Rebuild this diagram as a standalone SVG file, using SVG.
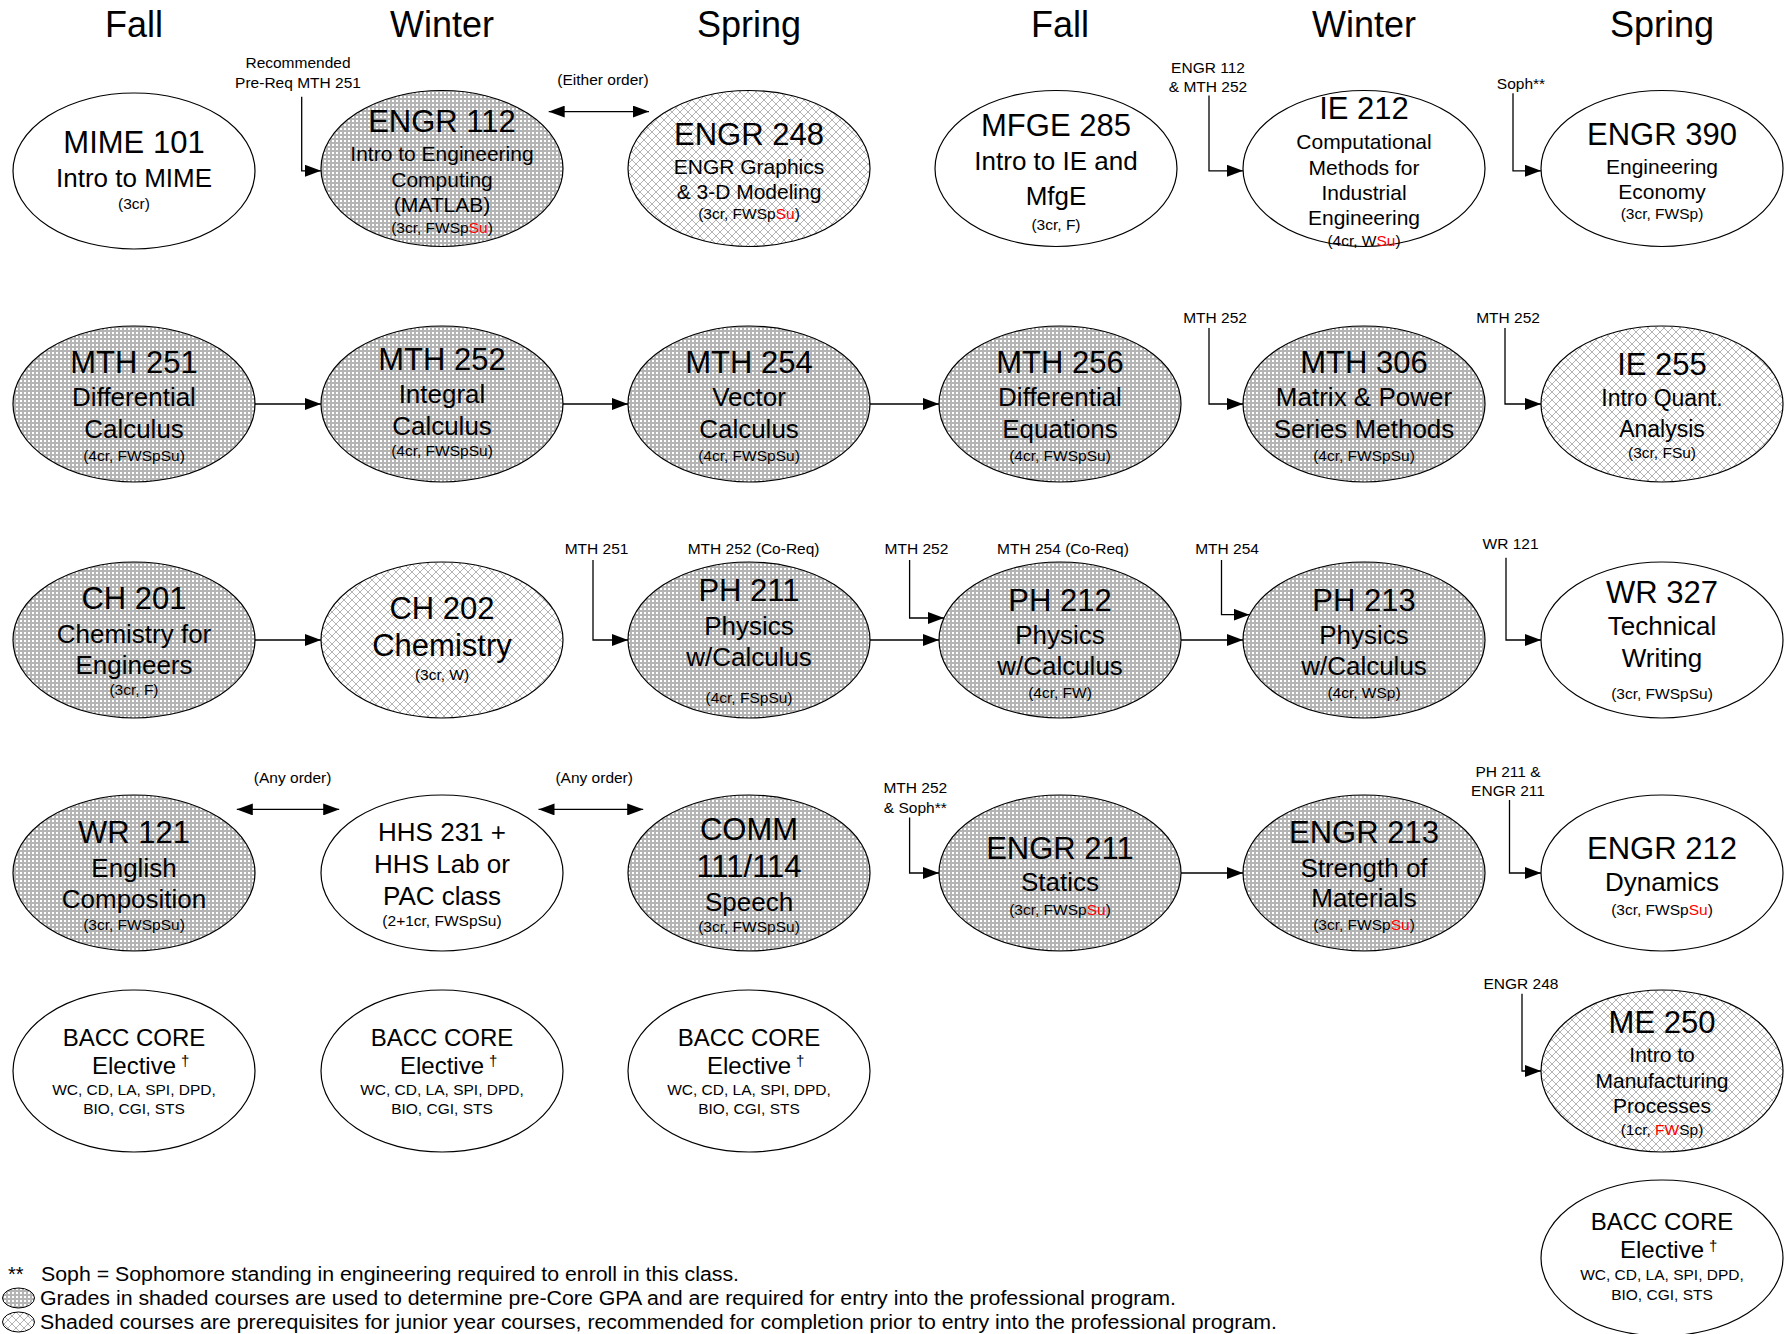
<svg xmlns="http://www.w3.org/2000/svg" width="1785" height="1334" viewBox="0 0 1785 1334">
<defs>
<pattern id="dots" width="4" height="4" patternUnits="userSpaceOnUse">
<rect width="4" height="4" fill="#b4b4b4"/>
<rect width="2" height="2" fill="#ffffff"/>
</pattern>
<pattern id="hatch" width="8" height="8" patternUnits="userSpaceOnUse">
<rect width="8" height="8" fill="#ffffff"/>
<path d="M0,0 L8,8 M8,0 L0,8" stroke="#b4b4b4" stroke-width="1" fill="none"/>
</pattern>
<marker id="ah" viewBox="0 0 16 12" refX="16" refY="6" markerWidth="16" markerHeight="12" markerUnits="userSpaceOnUse" orient="auto-start-reverse">
<path d="M0,0 L16,6 L0,12 Z" fill="#000"/>
</marker>
<style>
text{font-family:"Liberation Sans",Arial,sans-serif;fill:#000;text-anchor:middle}
.n{stroke:#000;stroke-width:1.2}
.w{fill:#fff}
.d{fill:url(#dots)}
.x{fill:url(#hatch)}
.h{font-size:36px}
.c{font-size:31px}
.b{font-size:26px}
.m{font-size:21px}
.s{font-size:15.5px}
.l{font-size:15.5px}
.e{font-size:24px}
.dg{font-size:15px}
.r{fill:#ff0000}
.f{font-size:20px;text-anchor:start}
.cn{stroke:#000;stroke-width:1.3;fill:none}
</style>
</defs>
<rect width="1785" height="1334" fill="#fff"/>

<g id="headers">
<text class="h" x="134" y="37">Fall</text>
<text class="h" x="442" y="37">Winter</text>
<text class="h" x="749" y="37">Spring</text>
<text class="h" x="1060" y="37">Fall</text>
<text class="h" x="1364" y="37">Winter</text>
<text class="h" x="1662" y="37">Spring</text>
</g>

<g id="connectors">
<path class="cn" d="M301.7,96.8 V170.8 H321" marker-end="url(#ah)"/>
<path class="cn" d="M548.7,111.6 H649" marker-start="url(#ah)" marker-end="url(#ah)"/>
<path class="cn" d="M1209,95.6 V170.8 H1243" marker-end="url(#ah)"/>
<path class="cn" d="M1513,93.3 V170.8 H1541" marker-end="url(#ah)"/>
<path class="cn" d="M255,404 H321" marker-end="url(#ah)"/>
<path class="cn" d="M563,404 H628" marker-end="url(#ah)"/>
<path class="cn" d="M870,404 H939" marker-end="url(#ah)"/>
<path class="cn" d="M1209,328 V404 H1243" marker-end="url(#ah)"/>
<path class="cn" d="M1505,328 V404 H1541" marker-end="url(#ah)"/>
<path class="cn" d="M255,640 H321" marker-end="url(#ah)"/>
<path class="cn" d="M593,560 V640 H628" marker-end="url(#ah)"/>
<path class="cn" d="M870,640 H939" marker-end="url(#ah)"/>
<path class="cn" d="M909.6,560 V618 H944" marker-end="url(#ah)"/>
<path class="cn" d="M1181,640 H1243" marker-end="url(#ah)"/>
<path class="cn" d="M1221.5,560 V614.7 H1249.5" marker-end="url(#ah)"/>
<path class="cn" d="M1506,557.8 V640 H1541" marker-end="url(#ah)"/>
<path class="cn" d="M236.8,809.4 H339.2" marker-start="url(#ah)" marker-end="url(#ah)"/>
<path class="cn" d="M538.5,809.4 H643.2" marker-start="url(#ah)" marker-end="url(#ah)"/>
<path class="cn" d="M909.6,817.4 V873 H939" marker-end="url(#ah)"/>
<path class="cn" d="M1181,873 H1243" marker-end="url(#ah)"/>
<path class="cn" d="M1509.5,800 V873 H1541" marker-end="url(#ah)"/>
<path class="cn" d="M1522,993.8 V1071 H1541" marker-end="url(#ah)"/>
</g>

<g id="labels">
<text class="l" x="298" y="68">Recommended</text>
<text class="l" x="298" y="87.5">Pre-Req MTH 251</text>
<text class="l" x="603" y="85">(Either order)</text>
<text class="l" x="1208" y="72.6">ENGR 112</text>
<text class="l" x="1208" y="92">&amp; MTH 252</text>
<text class="l" x="1521" y="88.5">Soph**</text>
<text class="l" x="1215" y="323">MTH 252</text>
<text class="l" x="1508" y="323">MTH 252</text>
<text class="l" x="596.5" y="554">MTH 251</text>
<text class="l" x="753.6" y="554">MTH 252 (Co-Req)</text>
<text class="l" x="916.4" y="554">MTH 252</text>
<text class="l" x="1063" y="554">MTH 254 (Co-Req)</text>
<text class="l" x="1227" y="554">MTH 254</text>
<text class="l" x="1510.6" y="548.5">WR 121</text>
<text class="l" x="292.6" y="783">(Any order)</text>
<text class="l" x="594.2" y="783">(Any order)</text>
<text class="l" x="915.3" y="793">MTH 252</text>
<text class="l" x="915.3" y="812.5">&amp; Soph**</text>
<text class="l" x="1508" y="777">PH 211 &amp;</text>
<text class="l" x="1508" y="795.5">ENGR 211</text>
<text class="l" x="1521" y="989">ENGR 248</text>
</g>

<g id="mime101">
<ellipse class="n w" cx="134" cy="171" rx="121" ry="78"/>
<text class="c" x="134" y="153.2">MIME 101</text>
<text class="b" x="134" y="186.7">Intro to MIME</text>
<text class="s" x="134" y="209.2">(3cr)</text>
</g>
<g id="engr112">
<ellipse class="n d" cx="442" cy="168.5" rx="121" ry="78"/>
<text class="c" x="442" y="131.6">ENGR 112</text>
<text class="m" x="442" y="161">Intro to Engineering</text>
<text class="m" x="442" y="187.2">Computing</text>
<text class="m" x="442" y="212.2">(MATLAB)</text>
<text class="s" x="442" y="233">(3cr, FWSp<tspan class="r">Su</tspan>)</text>
</g>
<g id="engr248">
<ellipse class="n x" cx="749" cy="168.5" rx="121" ry="78"/>
<text class="c" x="749" y="145.2">ENGR 248</text>
<text class="m" x="749" y="173.5">ENGR Graphics</text>
<text class="m" x="749" y="198.6">&amp; 3-D Modeling</text>
<text class="s" x="749" y="219.4">(3cr, FWSp<tspan class="r">Su</tspan>)</text>
</g>
<g id="mfge285">
<ellipse class="n w" cx="1056" cy="168.5" rx="121" ry="78"/>
<text class="c" x="1056" y="136.1">MFGE 285</text>
<text class="b" x="1056" y="169.6">Intro to IE and</text>
<text class="b" x="1056" y="204.9">MfgE</text>
<text class="s" x="1056" y="229.7">(3cr, F)</text>
</g>
<g id="ie212">
<ellipse class="n w" cx="1364" cy="168.5" rx="121" ry="78"/>
<text class="c" x="1364" y="119">IE 212</text>
<text class="m" x="1364" y="148.5">Computational</text>
<text class="m" x="1364" y="174.6">Methods for</text>
<text class="m" x="1364" y="199.7">Industrial</text>
<text class="m" x="1364" y="224.7">Engineering</text>
<text class="s" x="1364" y="245.6">(4cr, W<tspan class="r">Su</tspan>)</text>
</g>
<g id="engr390">
<ellipse class="n w" cx="1662" cy="168.5" rx="121" ry="78"/>
<text class="c" x="1662" y="145.2">ENGR 390</text>
<text class="m" x="1662" y="173.5">Engineering</text>
<text class="m" x="1662" y="198.6">Economy</text>
<text class="s" x="1662" y="219.4">(3cr, FWSp)</text>
</g>

<g id="mth251">
<ellipse class="n d" cx="134" cy="404" rx="121" ry="78"/>
<text class="c" x="134" y="372.9">MTH 251</text>
<text class="b" x="134" y="406.4">Differential</text>
<text class="b" x="134" y="438.3">Calculus</text>
<text class="s" x="134" y="460.8">(4cr, FWSpSu)</text>
</g>
<g id="mth252">
<ellipse class="n d" cx="442" cy="404" rx="121" ry="78"/>
<text class="c" x="442" y="369.5">MTH 252</text>
<text class="b" x="442" y="403">Integral</text>
<text class="b" x="442" y="434.9">Calculus</text>
<text class="s" x="442" y="456.2">(4cr, FWSpSu)</text>
</g>
<g id="mth254">
<ellipse class="n d" cx="749" cy="404" rx="121" ry="78"/>
<text class="c" x="749" y="372.9">MTH 254</text>
<text class="b" x="749" y="406.4">Vector</text>
<text class="b" x="749" y="438.3">Calculus</text>
<text class="s" x="749" y="460.8">(4cr, FWSpSu)</text>
</g>
<g id="mth256">
<ellipse class="n d" cx="1060" cy="404" rx="121" ry="78"/>
<text class="c" x="1060" y="372.9">MTH 256</text>
<text class="b" x="1060" y="406.4">Differential</text>
<text class="b" x="1060" y="438.3">Equations</text>
<text class="s" x="1060" y="460.8">(4cr, FWSpSu)</text>
</g>
<g id="mth306">
<ellipse class="n d" cx="1364" cy="404" rx="121" ry="78"/>
<text class="c" x="1364" y="372.9">MTH 306</text>
<text class="b" x="1364" y="406.4">Matrix &amp; Power</text>
<text class="b" x="1364" y="438.3">Series Methods</text>
<text class="s" x="1364" y="460.8">(4cr, FWSpSu)</text>
</g>
<g id="ie255">
<ellipse class="n x" cx="1662" cy="404" rx="121" ry="78"/>
<text class="c" x="1662" y="375.2">IE 255</text>
<text class="m" x="1662" y="406.4" style="font-size:23px">Intro Quant.</text>
<text class="m" x="1662" y="437.1" style="font-size:23px">Analysis</text>
<text class="s" x="1662" y="458.4">(3cr, FSu)</text>
</g>

<g id="ch201">
<ellipse class="n d" cx="134" cy="640" rx="121" ry="78"/>
<text class="c" x="134" y="608.6">CH 201</text>
<text class="b" x="134" y="643.1">Chemistry for</text>
<text class="b" x="134" y="673.9">Engineers</text>
<text class="s" x="134" y="695.3">(3cr, F)</text>
</g>
<g id="ch202">
<ellipse class="n x" cx="442" cy="640" rx="121" ry="78"/>
<text class="c" x="442" y="618.8">CH 202</text>
<text class="c" x="442" y="656.4">Chemistry</text>
<text class="s" x="442" y="680.4">(3cr, W)</text>
</g>
<g id="ph211">
<ellipse class="n d" cx="749" cy="640" rx="121" ry="78"/>
<text class="c" x="749" y="600.6">PH 211</text>
<text class="b" x="749" y="635.2">Physics</text>
<text class="b" x="749" y="666">w/Calculus</text>
<text class="s" x="749" y="703.2">(4cr, FSpSu)</text>
</g>
<g id="ph212">
<ellipse class="n d" cx="1060" cy="640" rx="121" ry="78"/>
<text class="c" x="1060" y="610.9">PH 212</text>
<text class="b" x="1060" y="644.3">Physics</text>
<text class="b" x="1060" y="675.1">w/Calculus</text>
<text class="s" x="1060" y="697.5">(4cr, FW)</text>
</g>
<g id="ph213">
<ellipse class="n d" cx="1364" cy="640" rx="121" ry="78"/>
<text class="c" x="1364" y="610.9">PH 213</text>
<text class="b" x="1364" y="644.3">Physics</text>
<text class="b" x="1364" y="675.1">w/Calculus</text>
<text class="s" x="1364" y="697.5">(4cr, WSp)</text>
</g>
<g id="wr327">
<ellipse class="n w" cx="1662" cy="640" rx="121" ry="78"/>
<text class="c" x="1662" y="602.9">WR 327</text>
<text class="b" x="1662" y="635.2">Technical</text>
<text class="b" x="1662" y="667.1">Writing</text>
<text class="s" x="1662" y="698.7">(3cr, FWSpSu)</text>
</g>

<g id="wr121">
<ellipse class="n d" cx="134" cy="873" rx="121" ry="78"/>
<text class="c" x="134" y="843.1">WR 121</text>
<text class="b" x="134" y="876.6">English</text>
<text class="b" x="134" y="908.4">Composition</text>
<text class="s" x="134" y="929.8">(3cr, FWSpSu)</text>
</g>
<g id="hhs231">
<ellipse class="n w" cx="442" cy="873" rx="121" ry="78"/>
<text class="b" x="442" y="841.3">HHS 231 +</text>
<text class="b" x="442" y="873.1">HHS Lab or</text>
<text class="b" x="442" y="905">PAC class</text>
<text class="s" x="442" y="926.4">(2+1cr, FWSpSu)</text>
</g>
<g id="comm111">
<ellipse class="n d" cx="749" cy="873" rx="121" ry="78"/>
<text class="c" x="749" y="839.7">COMM</text>
<text class="c" x="749" y="877.2">111/114</text>
<text class="b" x="749" y="910.7">Speech</text>
<text class="s" x="749" y="932.1">(3cr, FWSpSu)</text>
</g>
<g id="engr211">
<ellipse class="n d" cx="1060" cy="873" rx="121" ry="78"/>
<text class="c" x="1060" y="859">ENGR 211</text>
<text class="b" x="1060" y="891.4">Statics</text>
<text class="s" x="1060" y="915">(3cr, FWSp<tspan class="r">Su</tspan>)</text>
</g>
<g id="engr213">
<ellipse class="n d" cx="1364" cy="873" rx="121" ry="78"/>
<text class="c" x="1364" y="843.1">ENGR 213</text>
<text class="b" x="1364" y="876.6">Strength of</text>
<text class="b" x="1364" y="907.3">Materials</text>
<text class="s" x="1364" y="929.8">(3cr, FWSp<tspan class="r">Su</tspan>)</text>
</g>
<g id="engr212">
<ellipse class="n w" cx="1662" cy="873" rx="121" ry="78"/>
<text class="c" x="1662" y="859">ENGR 212</text>
<text class="b" x="1662" y="891.4">Dynamics</text>
<text class="s" x="1662" y="915">(3cr, FWSp<tspan class="r">Su</tspan>)</text>
</g>

<g id="bacc1">
<ellipse class="n w" cx="134" cy="1071" rx="121" ry="81"/>
<text class="e" x="134" y="1045.5">BACC CORE</text>
<text class="e" x="134" y="1073.9">Elective</text>
<text class="dg" x="181" y="1066" style="text-anchor:start">†</text>
<text class="s" x="134" y="1094.8">WC, CD, LA, SPI, DPD,</text>
<text class="s" x="134" y="1114.2">BIO, CGI, STS</text>
</g>
<g id="bacc2">
<ellipse class="n w" cx="442" cy="1071" rx="121" ry="81"/>
<text class="e" x="442" y="1045.5">BACC CORE</text>
<text class="e" x="442" y="1073.9">Elective</text>
<text class="dg" x="489" y="1066" style="text-anchor:start">†</text>
<text class="s" x="442" y="1094.8">WC, CD, LA, SPI, DPD,</text>
<text class="s" x="442" y="1114.2">BIO, CGI, STS</text>
</g>
<g id="bacc3">
<ellipse class="n w" cx="749" cy="1071" rx="121" ry="81"/>
<text class="e" x="749" y="1045.5">BACC CORE</text>
<text class="e" x="749" y="1073.9">Elective</text>
<text class="dg" x="796" y="1066" style="text-anchor:start">†</text>
<text class="s" x="749" y="1094.8">WC, CD, LA, SPI, DPD,</text>
<text class="s" x="749" y="1114.2">BIO, CGI, STS</text>
</g>
<g id="me250">
<ellipse class="n x" cx="1662" cy="1071" rx="121" ry="81"/>
<text class="c" x="1662" y="1033.2">ME 250</text>
<text class="m" x="1662" y="1061.5">Intro to</text>
<text class="m" x="1662" y="1087.6">Manufacturing</text>
<text class="m" x="1662" y="1112.7">Processes</text>
<text class="s" x="1662" y="1134.7">(1cr, <tspan class="r">FW</tspan>Sp)</text>
</g>
<g id="bacc4">
<ellipse class="n w" cx="1662" cy="1258" rx="121" ry="78"/>
<text class="e" x="1662" y="1229.9">BACC CORE</text>
<text class="e" x="1662" y="1258.4">Elective</text>
<text class="dg" x="1709" y="1250.5" style="text-anchor:start">†</text>
<text class="s" x="1662" y="1280.4">WC, CD, LA, SPI, DPD,</text>
<text class="s" x="1662" y="1299.8">BIO, CGI, STS</text>
</g>

<g id="legend">
<text class="f" x="8" y="1281">**</text>
<text class="f" x="41" y="1281" textLength="698" lengthAdjust="spacingAndGlyphs">Soph = Sophomore standing in engineering required to enroll in this class.</text>
<ellipse class="n d" cx="18.5" cy="1298" rx="16" ry="10" style="stroke-width:1"/>
<text class="f" x="40" y="1305" textLength="1136" lengthAdjust="spacingAndGlyphs">Grades in shaded courses are used to determine pre-Core GPA and are required for entry into the professional program.</text>
<ellipse class="n x" cx="18.5" cy="1322" rx="16" ry="10" style="stroke-width:1"/>
<text class="f" x="40" y="1329" textLength="1237" lengthAdjust="spacingAndGlyphs">Shaded courses are prerequisites for junior year courses, recommended for completion prior to entry into the professional program.</text>
</g>
</svg>
